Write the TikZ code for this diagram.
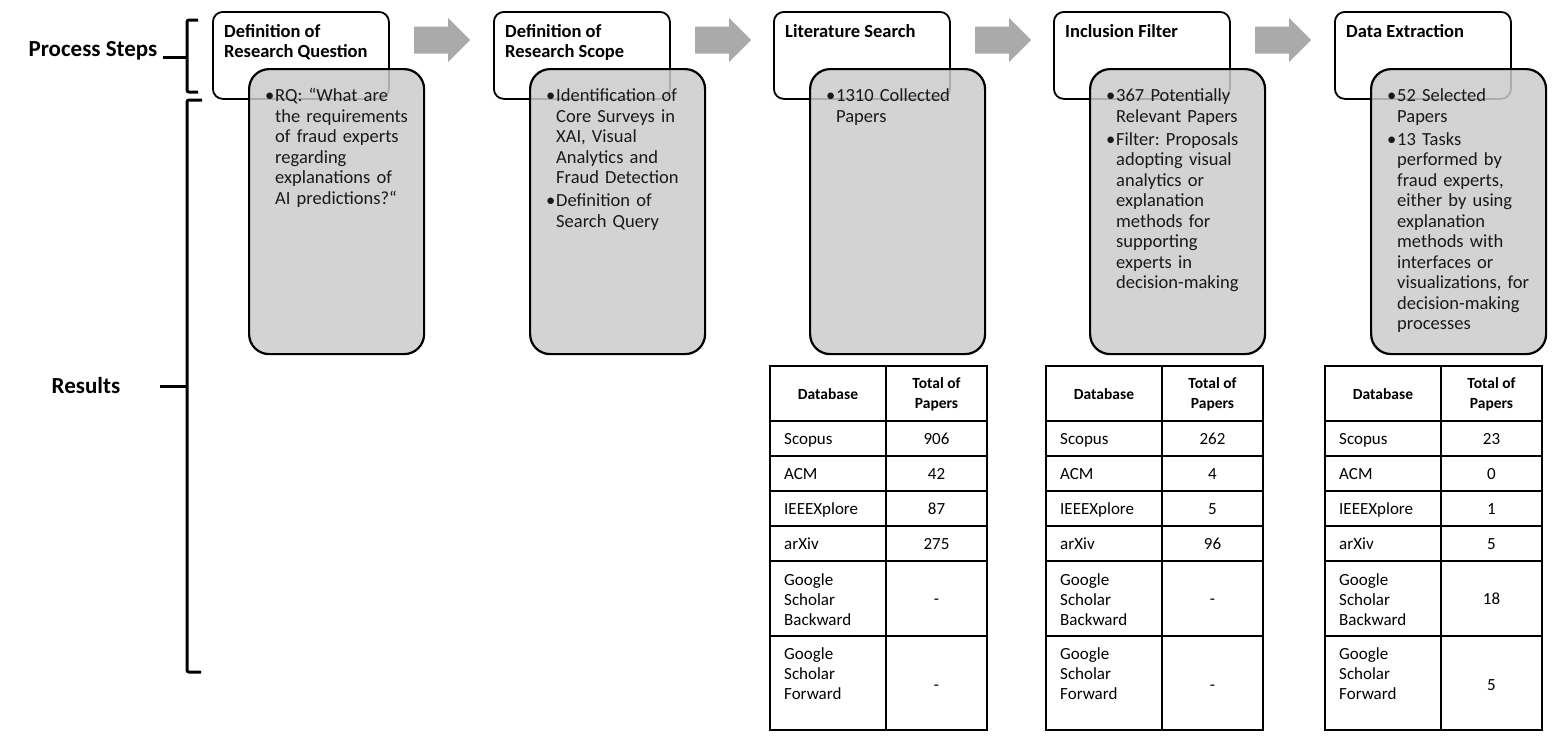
\documentclass[tikz,border=0pt]{standalone}
\usepackage{fontspec}
\setmainfont{Carlito}
\usetikzlibrary{positioning}

\definecolor{panelgray}{RGB}{203,203,203}
\definecolor{arrowgray}{RGB}{170,170,170}

\tikzset{
  stepbox/.style={draw=black, line width=1.8pt, rounded corners=10pt, fill=white,
    minimum width=176pt, minimum height=87pt, inner sep=0pt},
  resbox/.style={draw=black, line width=2.2pt, rounded corners=20pt, fill=panelgray,
    fill opacity=0.85, minimum width=175pt, minimum height=285pt, inner sep=0pt},
  steptitle/.style={font=\fontsize{18.5}{20}\selectfont\bfseries, align=left, inner sep=0pt},
  restext/.style={font=\fontsize{18.5}{20.5}\selectfont\frenchspacing, text width=160pt, align=left,
    inner sep=0pt, text=black!90},
  celltext/.style={font=\fontsize{17}{20}\selectfont, inner sep=0pt, align=left},
  headtext/.style={font=\fontsize{15.5}{20}\selectfont\bfseries, inner sep=0pt, align=center},
  tabline/.style={line width=1.6pt},
  bracket/.style={line width=3pt, rounded corners=2pt},
  sidelabel/.style={font=\fontsize{23}{26}\selectfont\bfseries, inner sep=0pt}
}

% one bullet, later lines hang under the text
\newcommand{\bul}[1]{\par{\let\\\newline\hangindent=10pt\hangafter=1\noindent\makebox[10pt][l]{•}#1\par}}

\begin{document}
\begin{tikzpicture}[x=1pt,y=-1pt]

  \useasboundingbox (0,0) rectangle (1561,745);

  % ---- side labels and brackets ----
  \node[sidelabel, anchor=base] (procl) at (93,56) {Process Steps};
  \node[sidelabel, anchor=base] (resl) at (86,393) {Results};

  \draw[bracket] (198,20) -- (187,20) -- (187,92) -- (198,92);
  \draw[bracket] (163,57) -- (187,57);
  \draw[bracket] (202,100) -- (187,100) -- (187,672) -- (201,672);
  \draw[bracket] (160,386) -- (187,386);

  % ---- process steps (white) with their results (gray) ----
  \foreach \i/\x/\title in {1/212/{Definition of\\Research Question},
                            2/493/{Definition of\\Research Scope},
                            3/773/{Literature Search},
                            4/1053/{Inclusion Filter},
                            5/1334/{Data Extraction}}
  {
    \node[stepbox, anchor=north west] (s\i) at (\x,11) {};
    \node[steptitle, anchor=north west] (t\i) at ([xshift=12pt,yshift=-13pt]s\i.north west) {\title};
    \node[resbox, anchor=north west] (r\i) at (\x+36,68) {};
  }

  % ---- block arrows between the steps ----
  \foreach \x in {212,493,773,1053}
  {
    \coordinate (ar\x) at (\x+230,40);
    \fill[arrowgray] ([shift={(-28,-13.5)}]ar\x) -- ++(34,0) -- ++(0,-8.5) -- ++(22,22)
      -- ++(-22,22) -- ++(0,-8.5) -- ++(-34,0) -- cycle;
  }

  % ---- texts of the results ----
  \node[restext, anchor=north west] (b1) at ([xshift=17pt,yshift=-13pt]r1.north west)
    {\bul{RQ: “What are\\the requirements\\of fraud experts\\regarding\\explanations of\\AI predictions?“}};
  \node[restext, anchor=north west] (b2) at ([xshift=17pt,yshift=-13pt]r2.north west)
    {\bul{Identification of\\Core Surveys in\\XAI, Visual\\Analytics and\\Fraud Detection}\vspace{2.5pt}%
     \bul{Definition of\\Search Query}};
  \node[restext, anchor=north west] (b3) at ([xshift=17pt,yshift=-13pt]r3.north west)
    {\bul{1310 Collected\\Papers}};
  \node[restext, anchor=north west] (b4) at ([xshift=17pt,yshift=-13pt]r4.north west)
    {\bul{367 Potentially\\Relevant Papers}\vspace{2.5pt}%
     \bul{Filter: Proposals\\adopting visual\\analytics or\\explanation\\methods for\\supporting\\experts in\\decision-making}};
  \node[restext, anchor=north west] (b5) at ([xshift=17pt,yshift=-13pt]r5.north west)
    {\bul{52 Selected\\Papers}\vspace{2.5pt}%
     \bul{13 Tasks\\performed by\\fraud experts,\\either by using\\explanation\\methods with\\interfaces or\\visualizations, for\\decision-making\\processes}};

  % ---- tables of papers per database ----
  \foreach \tx/\tn/\va/\vb/\vc/\vd/\ve/\vf in {770/lit/906/42/87/275/-/-,
                                              1046/inc/262/4/5/96/-/-,
                                              1325/ext/23/0/1/5/18/5}
  {
    \draw[tabline] (\tx,366) rectangle (\tx+217,730);
    \draw[tabline] (\tx+116,366) -- (\tx+116,730);
    \foreach \ry in {421,456,491,526,561,636}
      \draw[tabline] (\tx,\ry) -- (\tx+217,\ry);

    \node[headtext, anchor=base] (\tn-db) at (\tx+58,399) {Database};
    \node[headtext] (\tn-tot) at (\tx+166.5,394) {Total of\\Papers};

    \foreach \nm/\val/\by [count=\k] in {Scopus/\va/444, ACM/\vb/479, IEEEXplore/\vc/514, arXiv/\vd/549}
    {
      \node[celltext, anchor=base west] (\tn-r\k) at (\tx+14,\by) {\nm};
      \node[celltext, anchor=base] (\tn-v\k) at (\tx+166.5,\by) {\val};
    }

    \node[celltext, anchor=north west] (\tn-gb) at (\tx+14,573) {Google\\Scholar\\Backward};
    \node[celltext, anchor=base] (\tn-vgb) at (\tx+166.5,604) {\ve};
    \node[celltext, anchor=north west] (\tn-gf) at (\tx+14,647) {Google\\Scholar\\Forward};
    \node[celltext, anchor=base] (\tn-vgf) at (\tx+166.5,690) {\vf};
  }

\end{tikzpicture}
\end{document}
